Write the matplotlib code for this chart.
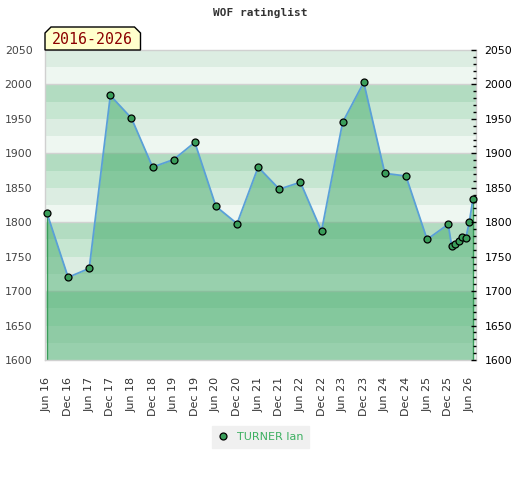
import matplotlib
matplotlib.use("Agg")
import matplotlib.pyplot as plt
from matplotlib.patches import Polygon
from matplotlib.ticker import MultipleLocator

# ---- data ----
dates = ["2016-06", "2016-12", "2017-06", "2017-12", "2018-06", "2018-12",
         "2019-06", "2019-12", "2020-06", "2020-12", "2021-06", "2021-12",
         "2022-06", "2022-12", "2023-06", "2023-12", "2024-06", "2024-12",
         "2025-06", "2025-12", "2026-01", "2026-02", "2026-03", "2026-04",
         "2026-05", "2026-06", "2026-07"]
ratings = [1813, 1720, 1733, 1984, 1951, 1880, 1891, 1916, 1823, 1798,
           1880, 1848, 1858, 1787, 1945, 2003, 1871, 1867, 1775, 1797,
           1765, 1769, 1773, 1778, 1777, 1800, 1833]
tick_dates = ["2016-06", "2016-12", "2017-06", "2017-12", "2018-06", "2018-12",
              "2019-06", "2019-12", "2020-06", "2020-12", "2021-06", "2021-12",
              "2022-06", "2022-12", "2023-06", "2023-12", "2024-06", "2024-12",
              "2025-06", "2025-12", "2026-06"]
tick_labels = ["Jun 16", "Dec 16", "Jun 17", "Dec 17", "Jun 18", "Dec 18",
               "Jun 19", "Dec 19", "Jun 20", "Dec 20", "Jun 21", "Dec 21",
               "Jun 22", "Dec 22", "Jun 23", "Dec 23", "Jun 24", "Dec 24",
               "Jun 25", "Dec 25", "Jun 26"]
player = "TURNER Ian"
title = "WOF ratinglist"
period = "2016-2026"


def month_index(s):
    y, m = s.split("-")
    return (int(y) - 2016) * 12 + (int(m) - 6)


x = [month_index(d) for d in dates]
xt = [month_index(d) for d in tick_dates]

YMIN, YMAX = 1600, 2050

fig = plt.figure(figsize=(5.2, 4.8), dpi=100)
ax = fig.add_axes([45 / 520, 1 - 360 / 480, (476 - 45) / 520, 310 / 480])
ax.set_xlim(-0.57, 121.9)
ax.set_ylim(YMIN, YMAX)

band_cols = {0: "#eef7f1", 25: "#dcede2", 50: "#c6e6d1", 75: "#b2dcc1"}
for lo in range(YMIN, YMAX, 25):
    ax.axhspan(lo, lo + 25, color=band_cols[lo % 100], lw=0, zorder=0)
for v in range(1700, YMAX, 100):
    ax.axhline(v, color="#d2d2d2", lw=1, zorder=0.5)

ax.fill_between(x, ratings, YMIN, color="#43ab6a", alpha=0.5, lw=0, zorder=1)
ax.vlines([x[0], x[-1]], YMIN, [ratings[0], ratings[-1]], color="#3a9d5a", lw=1, zorder=2)
ax.plot(x, ratings, color="#5aa0d8", lw=1.3, zorder=3)
ax.plot(x, ratings, ls="none", marker="o", ms=5, mfc="#3a9d5a", mec="black",
        mew=0.9, zorder=4, label=player, clip_on=False)

ax.yaxis.set_major_locator(MultipleLocator(50))
ax.tick_params(axis="y", length=0, labelsize=7.8, labelcolor="#444444", pad=9)
ax.set_xticks(xt)
ax.set_xticklabels(tick_labels, rotation=90, fontsize=8, color="#333333")
ax.tick_params(axis="x", length=0, pad=12)
for s in ax.spines.values():
    s.set_color("#d0d0d0")
    s.set_linewidth(1)

ax2 = ax.twinx()
ax2.set_ylim(YMIN, YMAX)
ax2.yaxis.set_major_locator(MultipleLocator(50))
ax2.yaxis.set_minor_locator(MultipleLocator(10))
ax2.tick_params(axis="y", which="major", direction="in", length=3.6, width=1,
                color="black", labelsize=7.8, labelcolor="black", pad=6)
ax2.tick_params(axis="y", which="minor", direction="in", length=2.2, width=1, color="black")
for s in ax2.spines.values():
    s.set_visible(False)

fig.text(0.5, 1 - 13 / 480, title, ha="center", va="center",
         family="DejaVu Sans Mono", fontweight="bold", fontsize=8, color="#333333")

# period label box with chamfered top corners (axes coords)
w = (140.5 - 45) / 431
h = 23 / 310
cx = 6 / 431
cy = 6 / 310
poly = Polygon([(0, 1), (0, 1 + h - cy), (cx, 1 + h), (w - cx, 1 + h),
                (w, 1 + h - cy), (w, 1)], closed=True, transform=ax.transAxes,
               facecolor="#ffffcc", edgecolor="black", lw=1, clip_on=False, zorder=10)
ax.add_patch(poly)
ax.text(w / 2, 1 + h / 2 - 0.003, period, transform=ax.transAxes, ha="center",
        va="center", family="DejaVu Sans Mono", fontsize=10.7, color="#8b0000", zorder=11)

leg = ax.legend(loc="center", bbox_to_anchor=(260.5 / 520, 1 - 437 / 480),
                bbox_transform=fig.transFigure, frameon=True, fancybox=False,
                facecolor="#f0f0f0", edgecolor="#f0f0f0", framealpha=1,
                fontsize=8, labelcolor="#3cb061", handlelength=1.0,
                handletextpad=0.7, borderpad=0.55, borderaxespad=0)
leg.set_zorder(20)

fig.savefig("out.png", dpi=100)
